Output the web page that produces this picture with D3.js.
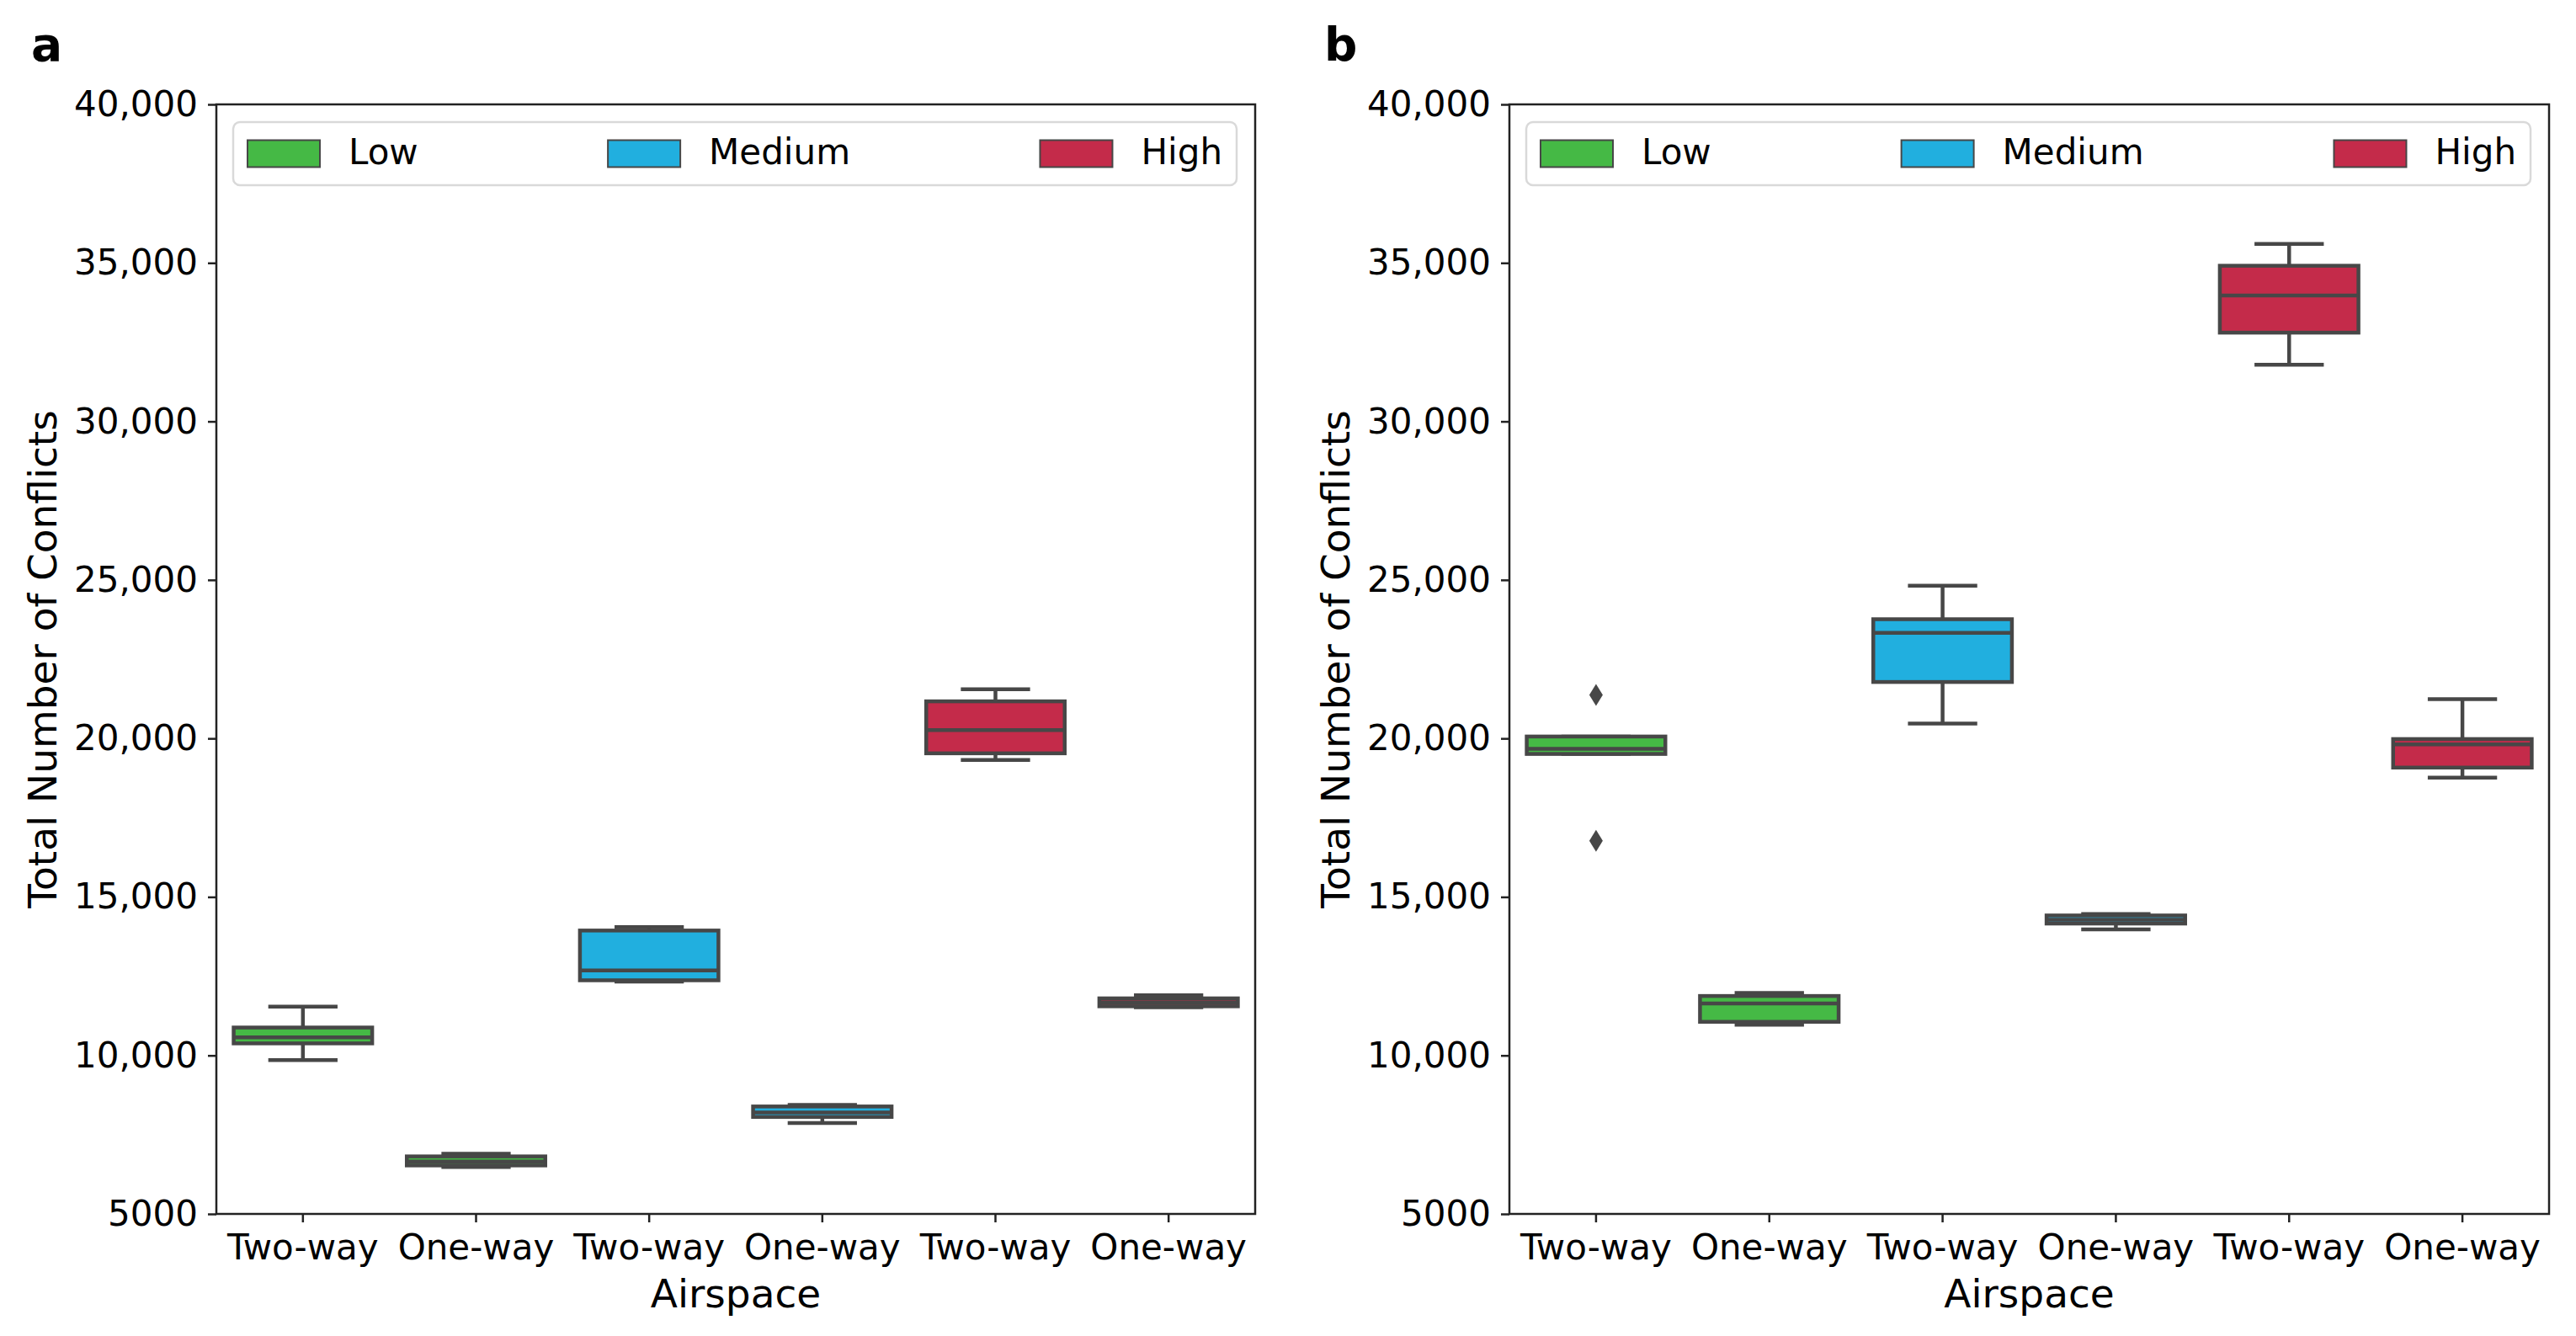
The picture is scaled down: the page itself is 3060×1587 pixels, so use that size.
<!DOCTYPE html>
<html>
<head>
<meta charset="utf-8">
<script src="https://cdn.jsdelivr.net/npm/d3@7"></script>
<style>
  body { margin: 0; background: #fff; }
  text { font-family: "DejaVu Sans", sans-serif; fill: #000; }
</style>
</head>
<body>
<div id="chart"></div>
<script>
// Categories
var densities = ['Low', 'Medium', 'High']
var airspaces = ['Two-way', 'One-way', 'Two-way', 'One-way', 'Two-way', 'One-way']
var boxDensity = [0, 0, 1, 1, 2, 2]
var colors = ['#45b945', '#21afdf', '#c42b4a']

// Y ticks
var yTicks = [5000, 10000, 15000, 20000, 25000, 30000, 35000, 40000]
var yTickLabels = ['5000', '10,000', '15,000', '20,000', '25,000', '30,000', '35,000', '40,000']

// Panel a: box statistics, one value per box (left to right)
var lowWhiskerA  = [9850, 6480, 12330, 7870, 19320, 11520]
var q1A          = [10380, 6530, 12370, 8060, 19530, 11550]
var medianA      = [10570, 6655, 12680, 8200, 20260, 11670]
var q3A          = [10880, 6815, 13940, 8390, 21170, 11800]
var highWhiskerA = [11540, 6900, 14050, 8440, 21550, 11900]
var outliersA    = [[], [], [], [], [], []]

// Panel b
var lowWhiskerB  = [19510, 10970, 20470, 13975, 31790, 18760]
var q1B          = [19510, 11060, 21780, 14160, 32800, 19080]
var medianB      = [19670, 11640, 23330, 14280, 33970, 19810]
var q3B          = [20060, 11875, 23760, 14415, 34910, 19980]
var highWhiskerB = [20060, 11970, 24820, 14460, 35600, 21240]
var outliersB    = [[16770, 21370], [], [], [], [], []]

var W = 3060, H = 1587
var lineColor = '#474747'
var lineW = 4.5

var svg = d3.select('#chart').append('svg')
  .attr('width', W)
  .attr('height', H)

function buildBoxes(lw, q1, med, q3, hw, outs) {
  return q1.map(function (d, i) {
    return { i: i, lw: lw[i], q1: q1[i], med: med[i], q3: q3[i], hw: hw[i], out: outs[i] }
  })
}

function drawPanel(opts) {
  var x0 = opts.x0, x1 = opts.x1, y0 = 124, y1 = 1442
  var g = svg.append('g')

  var y = d3.scaleLinear().domain([5000, 40000]).range([y1, y0])
  var x = d3.scaleBand().domain(d3.range(airspaces.length)).range([x0, x1]).padding(0)
  var bw = x.bandwidth() * 0.8

  // Y axis
  var yAxis = d3.axisLeft(y)
    .tickValues(yTicks)
    .tickFormat(function (d, i) { return yTickLabels[i] })
    .tickSize(10)
    .tickPadding(12)
  var ya = g.append('g').attr('transform', 'translate(' + x0 + ',0)').call(yAxis)
  ya.select('.domain').remove()
  ya.selectAll('.tick line').attr('stroke', '#222').attr('stroke-width', 2.5)
  ya.selectAll('.tick text').attr('font-size', 42).attr('font-family', 'DejaVu Sans').attr('fill', '#000')

  // X axis
  var xAxis = d3.axisBottom(x)
    .tickFormat(function (d) { return airspaces[d] })
    .tickSize(10)
    .tickPadding(14)
  var xa = g.append('g').attr('transform', 'translate(0,' + y1 + ')').call(xAxis)
  xa.select('.domain').remove()
  xa.selectAll('.tick line').attr('stroke', '#222').attr('stroke-width', 2.5)
  xa.selectAll('.tick text').attr('font-size', 42).attr('font-family', 'DejaVu Sans').attr('fill', '#000')

  // Boxes
  var boxes = g.selectAll('.box')
    .data(opts.boxes)
    .enter().append('g')
    .attr('class', 'box')
    .attr('transform', function (d) { return 'translate(' + (x(d.i) + x.bandwidth() / 2) + ',0)' })

  boxes.append('line')
    .attr('x1', 0).attr('x2', 0)
    .attr('y1', function (d) { return y(d.hw) })
    .attr('y2', function (d) { return y(d.q3) })
    .attr('stroke', lineColor).attr('stroke-width', lineW)
  boxes.append('line')
    .attr('x1', 0).attr('x2', 0)
    .attr('y1', function (d) { return y(d.q1) })
    .attr('y2', function (d) { return y(d.lw) })
    .attr('stroke', lineColor).attr('stroke-width', lineW)
  // caps
  boxes.append('line')
    .attr('x1', -bw / 4).attr('x2', bw / 4)
    .attr('y1', function (d) { return y(d.hw) })
    .attr('y2', function (d) { return y(d.hw) })
    .attr('stroke', lineColor).attr('stroke-width', lineW)
  boxes.append('line')
    .attr('x1', -bw / 4).attr('x2', bw / 4)
    .attr('y1', function (d) { return y(d.lw) })
    .attr('y2', function (d) { return y(d.lw) })
    .attr('stroke', lineColor).attr('stroke-width', lineW)

  boxes.append('rect')
    .attr('x', -bw / 2)
    .attr('width', bw)
    .attr('y', function (d) { return y(d.q3) })
    .attr('height', function (d) { return Math.max(0.5, y(d.q1) - y(d.q3)) })
    .attr('fill', function (d) { return colors[boxDensity[d.i]] })
    .attr('stroke', lineColor).attr('stroke-width', lineW)

  boxes.append('line')
    .attr('x1', -bw / 2).attr('x2', bw / 2)
    .attr('y1', function (d) { return y(d.med) })
    .attr('y2', function (d) { return y(d.med) })
    .attr('stroke', lineColor).attr('stroke-width', lineW)

  // outliers (thin diamonds)
  boxes.selectAll('.flier')
    .data(function (d) { return d.out })
    .enter().append('path')
    .attr('class', 'flier')
    .attr('d', function (v) {
      var cy = y(v)
      return 'M0,' + (cy - 13) + 'L8,' + cy + 'L0,' + (cy + 13) + 'L-8,' + cy + 'Z'
    })
    .attr('fill', lineColor)

  // Frame
  g.append('rect')
    .attr('x', x0).attr('y', y0)
    .attr('width', x1 - x0).attr('height', y1 - y0)
    .attr('fill', 'none')
    .attr('stroke', '#222').attr('stroke-width', 2.5)

  // Legend (expanded across the top)
  var lx0 = x0 + 20, lx1 = x1 - 22, ly0 = y0 + 21, ly1 = y0 + 96
  var leg = g.append('g')
  leg.append('rect')
    .attr('x', lx0).attr('y', ly0)
    .attr('width', lx1 - lx0).attr('height', ly1 - ly0)
    .attr('rx', 8)
    .attr('fill', '#fff').attr('fill-opacity', 0.8)
    .attr('stroke', '#d9d9d9').attr('stroke-width', 2.5)

  var patchW = 86, patchH = 32, gapText = 34, pad = 17
  var labelW = densities.map(function (t) {
    var tmp = leg.append('text').attr('font-size', 42).text(t)
    var w = tmp.node().getComputedTextLength()
    tmp.remove()
    return w
  })
  var colW = labelW.map(function (w) { return patchW + gapText + w })
  var colGap = ((lx1 - lx0 - 2 * pad) - d3.sum(colW)) / (densities.length - 1)
  var cx = lx0 + pad
  var cy = (ly0 + ly1) / 2
  densities.forEach(function (t, i) {
    leg.append('rect')
      .attr('x', cx).attr('y', cy - patchH / 2)
      .attr('width', patchW).attr('height', patchH)
      .attr('fill', colors[i])
      .attr('stroke', lineColor).attr('stroke-width', 2)
    leg.append('text')
      .attr('x', cx + patchW + gapText)
      .attr('y', cy + 12)
      .attr('font-size', 42)
      .text(t)
    cx += colW[i] + colGap
  })

  // Axis titles
  g.append('text')
    .attr('x', (x0 + x1) / 2)
    .attr('y', 1553)
    .attr('text-anchor', 'middle')
    .attr('font-size', 47)
    .text('Airspace')
  g.append('text')
    .attr('transform', 'translate(' + (x0 - 190) + ',' + ((y0 + y1) / 2) + ') rotate(-90)')
    .attr('text-anchor', 'middle')
    .attr('font-size', 47)
    .text('Total Number of Conflicts')

  // Panel letter
  g.append('text')
    .attr('x', x0 - 220)
    .attr('y', 72)
    .attr('font-size', 55)
    .attr('font-weight', 'bold')
    .text(opts.letter)
}

drawPanel({
  x0: 257, x1: 1491, letter: 'a',
  boxes: buildBoxes(lowWhiskerA, q1A, medianA, q3A, highWhiskerA, outliersA)
})
drawPanel({
  x0: 1793, x1: 3028, letter: 'b',
  boxes: buildBoxes(lowWhiskerB, q1B, medianB, q3B, highWhiskerB, outliersB)
})
</script>
</body>
</html>
